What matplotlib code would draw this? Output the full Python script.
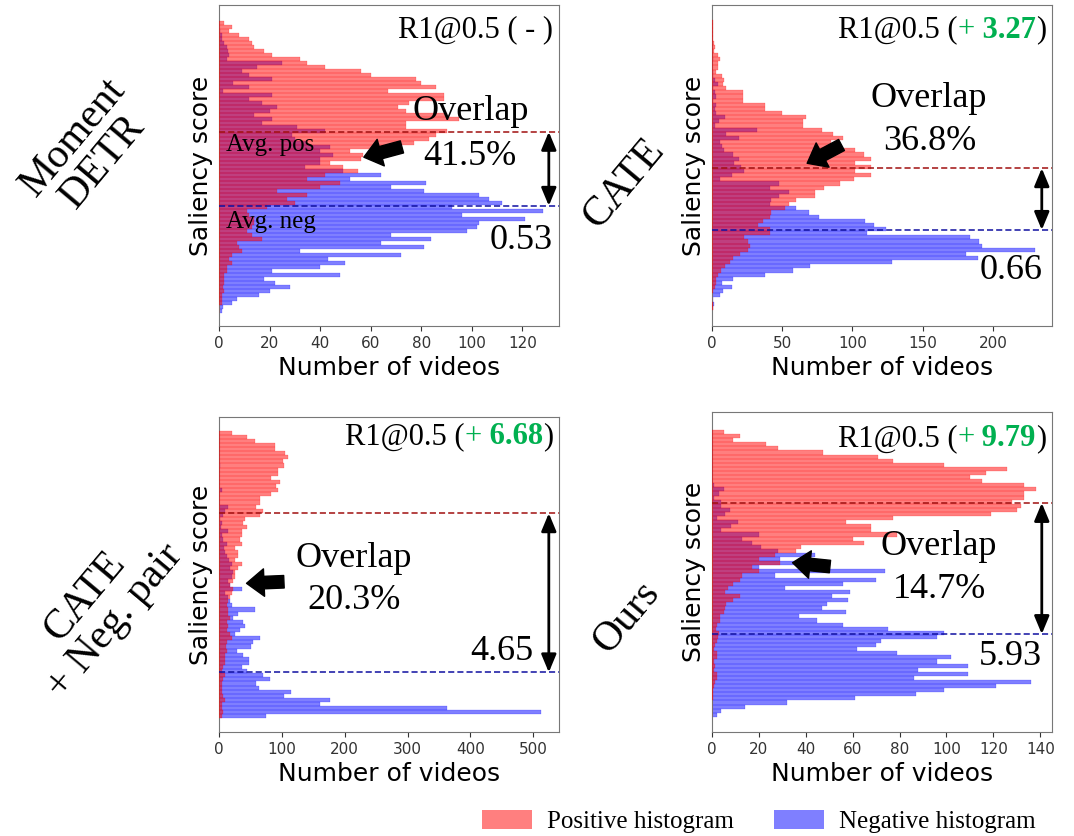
import numpy as np
import matplotlib

matplotlib.use("Agg")
import matplotlib.pyplot as plt
from matplotlib.patches import Patch

SERIF = "Liberation Serif"
RED = (1.0, 0.0, 0.0, 0.5)
BLUE = (0.0, 0.0, 1.0, 0.5)
GREEN = "#00B050"

# histogram counts per saliency bin, listed from the highest score (top) down
moment_pos = [2, 5, 4, 8, 12, 13, 14, 18, 21, 32, 35, 42, 56, 60, 78, 80, 86, 67, 89, 89,
              75, 71, 74, 90, 95, 74, 74, 90, 86, 83, 77, 70, 52, 57, 56, 44, 49, 55,
              42, 35, 48, 40, 23, 35, 27, 30, 19, 11, 12, 14, 14, 13, 11, 13, 17, 7, 8, 9,
              5, 4, 5, 3, 3, 2, 2, 2, 1.5, 2, 1, 1, 1, 0, 0]
moment_neg = [0, 0, 0.5, 1, 1, 2, 3, 3.5, 4, 3, 25, 15, 9, 12, 21, 5.5, 12, 1.5, 21, 12,
              17, 23, 20, 14, 21, 17, 31, 42, 29, 30, 35, 44, 40, 45, 40, 40, 34, 49,
              64, 52, 82, 68, 81, 103, 107, 112, 92, 128, 96, 121, 103, 102, 98, 68, 84, 64,
              81, 32, 72, 43, 50, 40, 21, 48, 18, 22, 28, 20, 16, 7, 5, 1.5, 1]

cate_pos = [1, 0.5, 1, 0.5, 1, 1.5, 2, 1.5, 4.5, 6, 4, 4.5, 3, 7.5, 8.5, 8, 10, 22, 22, 22,
            38, 38, 50, 67, 65, 65, 78, 86, 93, 85, 88, 102, 108, 113, 102, 113, 102, 113, 101, 91,
            80, 73, 73, 60, 55, 52, 42, 41, 36, 33, 41, 41, 23, 26, 27, 26, 20, 15, 12.6, 9,
            6.6, 4, 3, 3, 2, 0.7, 0, 0, 0.7, 0.7]
cate_neg = [0, 0, 0, 0, 0, 0, 0, 0, 0, 1, 0, 0, 1, 1, 2, 4.5, 1, 2, 3, 1,
            3, 2, 3, 9, 5, 2, 32, 10, 19, 6, 7, 8.5, 15, 19, 16, 21, 23, 14, 6, 48,
            41, 55, 48, 42, 41, 60, 69, 76, 109, 115, 124, 110, 184, 190, 192, 230, 181, 189, 128, 70,
            58, 38, 15, 7, 14, 8, 6, 1, 1.4, 0.5]

negpair_pos = [20, 44, 57, 89, 89, 105, 110, 102, 103, 94, 94, 83, 97, 91, 94, 83, 65, 65, 59, 70,
               65, 41, 38, 45, 36, 37, 34, 36, 25, 30, 30, 25, 37, 30, 25, 25, 23, 17, 22, 20,
               17, 14, 12, 14, 14, 17, 12, 14, 12, 17, 21, 12, 11, 12, 9, 9, 9, 6, 5, 9,
               6, 5, 5, 5, 6, 9, 5, 5, 6, 4]
negpair_neg = [0, 0, 0, 0, 0, 0, 0, 0, 2, 0, 0, 0, 0, 0, 4, 0, 0, 0, 14, 9,
               6, 2, 5, 3, 14, 4, 6, 12, 8, 10, 12, 16, 20, 18, 22, 20, 15, 18, 36, 10,
               14, 18, 20, 57, 30, 22, 38, 41, 33, 25, 65, 54, 51, 28, 38, 48, 48, 36, 44, 70,
               81, 59, 64, 115, 104, 176, 160, 362, 513, 75]

ours_pos = [5, 12, 9, 23, 28, 47.5, 71, 77, 99, 126, 117, 110, 115, 133, 138, 133, 133, 128, 132, 130,
            119, 77, 57, 68, 68, 79, 60, 65, 38, 36, 27, 20, 29, 17, 20, 13, 12, 9, 7, 5.5,
            12, 9, 6, 5.5, 5, 3.4, 3.4, 2, 1.7, 3, 2.7, 2, 1.3, 1, 2.3, 2.3, 1, 1.3, 1, 2,
            2, 1.3, 1, 0.5, 0.3, 0.3, 0, 0, 0, 0]
ours_neg = [0, 0, 0, 0, 0, 0, 0, 0, 0, 0, 0, 0, 0, 1, 5, 3, 1, 4, 4, 7.5,
            5.4, 2, 11, 8, 4, 20, 13, 17, 21, 28, 44, 29, 36, 20, 74, 27, 70, 56, 31, 59,
            51, 58, 49, 47, 57, 37, 45, 56, 75, 99, 96, 72, 70, 62, 79, 102, 96, 109, 88, 109,
            86, 136, 121, 99, 87, 61, 32, 14, 4, 2]

# average scores (in bin units, 0 = lowest bin)
avg_pos = [44.8, 33.7, 49.4, 51.7]
avg_neg = [26.3, 18.8, 10.7, 19.7]

method_names = ["Moment\nDETR", "CATE", "CATE\n+ Neg. pair", "Ours"]
r1_gains = [None, "3.27", "6.68", "9.79"]
overlaps = ["41.5%", "36.8%", "20.3%", "14.7%"]
gaps = ["0.53", "0.66", "4.65", "5.93"]
x_ticks = [range(0, 121, 20), range(0, 201, 50), range(0, 501, 100), range(0, 141, 20)]


def r1_label(ax, gain, y):
    kw = dict(fontsize=22, family=SERIF)
    if gain is None:
        ax.text(0.982, y, "R1@0.5 ( - )", transform=ax.transAxes, ha="right", va="center", **kw)
        return
    t = ax.text(0.982, y, ")", transform=ax.transAxes, ha="right", va="center", **kw)
    t = ax.annotate(" " + gain, xy=(0, 0), xycoords=t, ha="right", va="bottom",
                    color=GREEN, weight="bold", **kw)
    t = ax.annotate("+", xy=(0, 0), xycoords=t, ha="right", va="bottom", color=GREEN, **kw)
    ax.annotate("R1@0.5 (", xy=(0, 0), xycoords=t, ha="right", va="bottom", **kw)


def draw_panel(ax, pos, neg, i, xmax, ylim, layout):
    y = np.arange(len(pos))[::-1]
    ax.barh(y, neg, height=1.0, color=BLUE, edgecolor=BLUE, linewidth=0.25, zorder=2)
    ax.barh(y, pos, height=1.0, color=RED, edgecolor=RED, linewidth=0.25, zorder=3)
    ax.axhline(avg_pos[i], color="#a01010", ls=(0, (4, 2)), lw=1.1, zorder=4)
    ax.axhline(avg_neg[i], color="#1010a0", ls=(0, (4, 2)), lw=1.1, zorder=4)

    ax.set_xlim(0, xmax)
    ax.set_ylim(*ylim)
    ax.set_xticks(list(x_ticks[i]))
    ax.set_yticks([])
    ax.tick_params(axis="x", labelsize=11, colors="#333333")
    for s in ax.spines.values():
        s.set_color("#777777")
    ax.set_xlabel("Number of videos", fontsize=18)
    ax.set_ylabel("Saliency score", fontsize=18)

    # double arrow between the two averages
    ax.annotate("", xy=(0.97, avg_neg[i]), xytext=(0.97, avg_pos[i]),
                xycoords=("axes fraction", "data"),
                arrowprops=dict(arrowstyle="<|-|>,head_length=0.6,head_width=0.25",
                                color="black", lw=2, shrinkA=0, shrinkB=0, mutation_scale=18),
                zorder=5)

    r1_label(ax, r1_gains[i], layout["r1_y"])
    ax.text(*layout["ov"], "Overlap", transform=ax.transAxes, ha="center", va="center",
            fontsize=26, family=SERIF)
    ax.text(*layout["pct"], overlaps[i], transform=ax.transAxes, ha="center", va="center",
            fontsize=26, family=SERIF)
    ax.text(*layout["gap"], gaps[i], transform=ax.transAxes, ha="center", va="center",
            fontsize=26, family=SERIF)
    tail, tip = layout["arrow"]
    ax.annotate("", xy=tip, xytext=tail, xycoords="axes fraction",
                arrowprops=dict(arrowstyle="simple,head_length=0.7,head_width=1.1,tail_width=0.5",
                                color="black", mutation_scale=18, shrinkA=0, shrinkB=0),
                zorder=6)


fig = plt.figure(figsize=(10.74, 8.36), dpi=100)

ax1 = fig.add_axes([0.2039, 0.6100, 0.3166, 0.3840])
ax2 = fig.add_axes([0.6629, 0.6100, 0.3166, 0.3840])
ax3 = fig.add_axes([0.2039, 0.1244, 0.3166, 0.3768])
ax4 = fig.add_axes([0.6629, 0.1244, 0.3166, 0.3828])

draw_panel(ax1, moment_pos, moment_neg, 0, 134.5, (-3.75, 76.5),
           dict(r1_y=0.922, ov=(0.74, 0.668), pct=(0.738, 0.527), gap=(0.89, 0.268),
                arrow=((0.538, 0.558), (0.426, 0.526))))
draw_panel(ax2, cate_pos, cate_neg, 1, 242, (-4.4, 73.1),
           dict(r1_y=0.922, ov=(0.638, 0.709), pct=(0.641, 0.574), gap=(0.879, 0.174),
                arrow=((0.381, 0.564), (0.280, 0.507))))
draw_panel(ax3, negpair_pos, negpair_neg, 2, 541, (-3.8, 72.8),
           dict(r1_y=0.937, ov=(0.397, 0.551), pct=(0.397, 0.419), gap=(0.831, 0.255),
                arrow=((0.191, 0.477), (0.081, 0.472))))
draw_panel(ax4, ours_pos, ours_neg, 3, 145, (-4.2, 73.9),
           dict(r1_y=0.918, ov=(0.666, 0.579), pct=(0.668, 0.444), gap=(0.879, 0.235),
                arrow=((0.347, 0.517), (0.237, 0.529))))

ax1.text(0.022, 0.564, "Avg. pos", transform=ax1.transAxes, ha="left", va="center",
         fontsize=18, family=SERIF, zorder=7)
ax1.text(0.022, 0.325, "Avg. neg", transform=ax1.transAxes, ha="left", va="center",
         fontsize=18, family=SERIF, zorder=7)

label_xy = [(0.082, 0.821), (0.581, 0.781), (0.093, 0.272), (0.583, 0.262)]
for name, (lx, ly) in zip(method_names, label_xy):
    fig.text(lx, ly, name, rotation=50, ha="center", va="center", multialignment="center",
             fontsize=30, family=SERIF, linespacing=1.0)

handles = [Patch(facecolor=RED, edgecolor="none", label="Positive histogram"),
           Patch(facecolor=BLUE, edgecolor="none", label="Negative histogram")]
fig.legend(handles=handles, loc="center right", bbox_to_anchor=(0.985, 0.017), ncol=2,
           frameon=False, prop={"family": SERIF, "size": 18}, handlelength=2.0,
           handleheight=0.8, columnspacing=1.6, handletextpad=0.6)

fig.savefig("out.png", dpi=100)
